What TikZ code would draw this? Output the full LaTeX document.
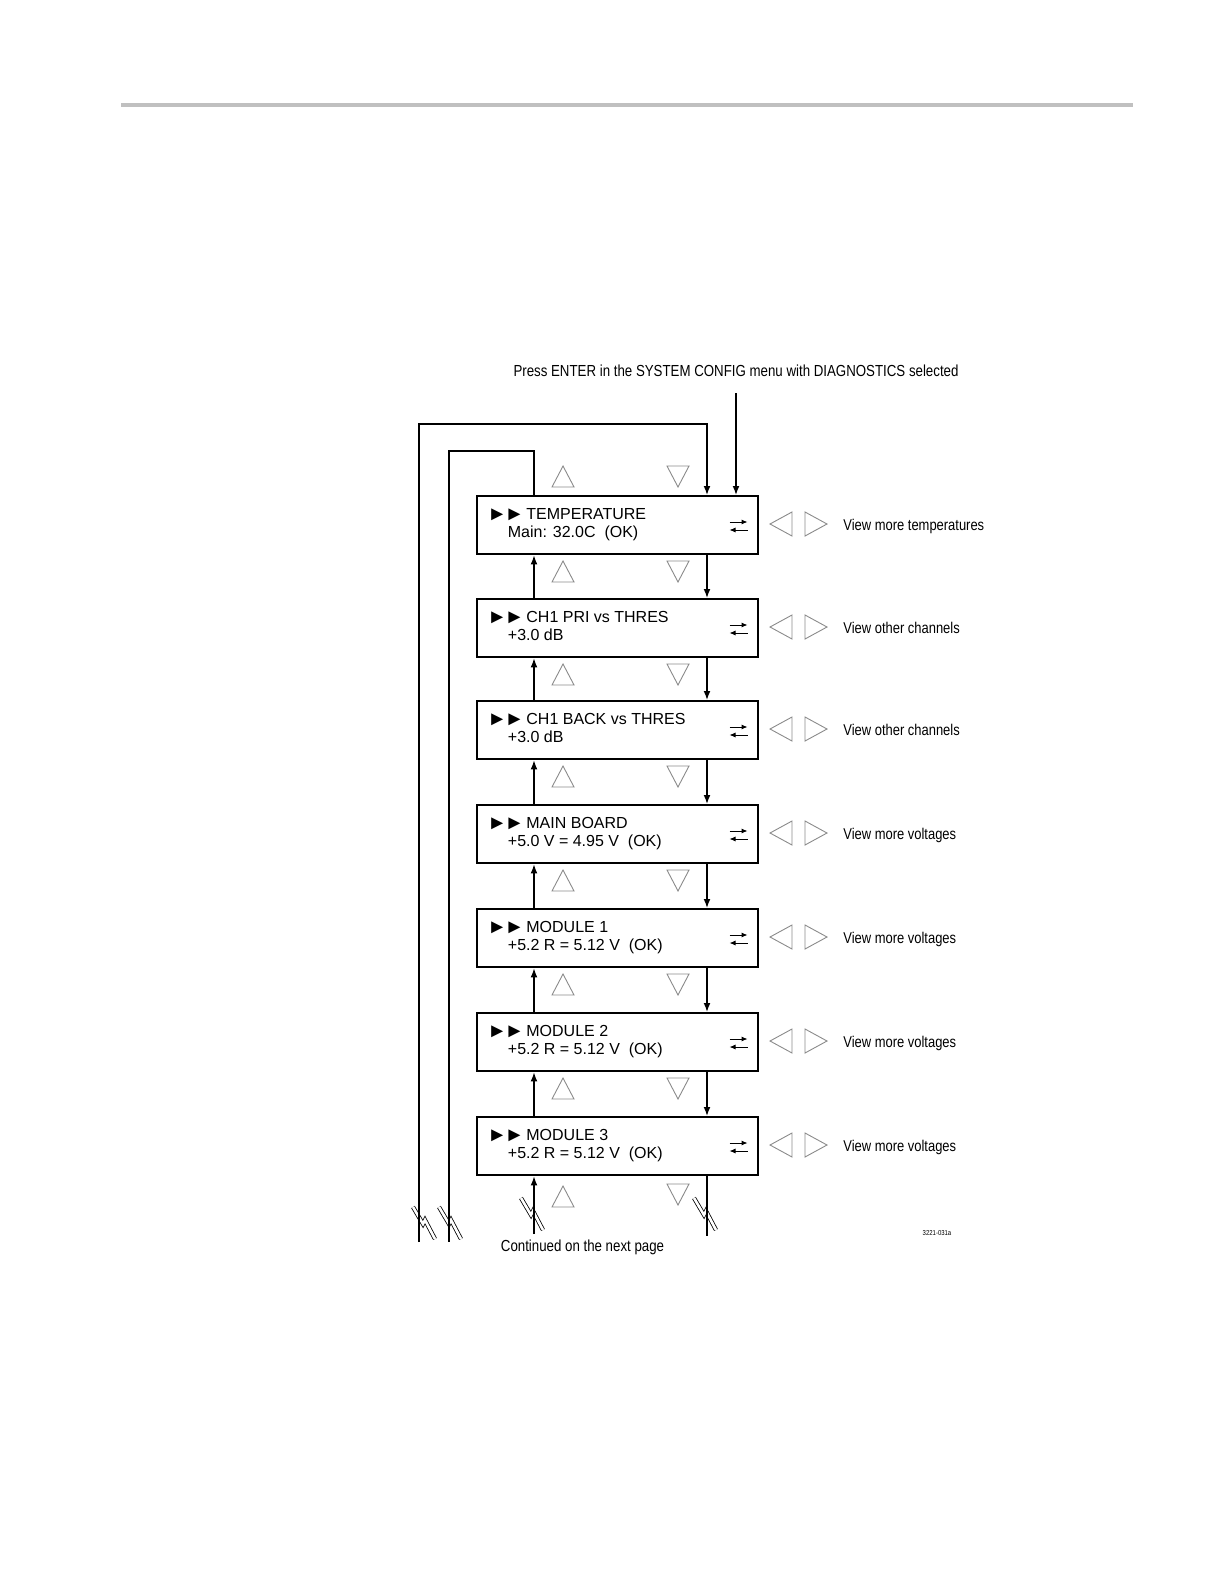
\documentclass[tikz,border=0pt]{standalone}
\usepackage{fontspec}
\setmainfont{Liberation Sans}
\newfontfamily\narrowfont[FakeStretch=0.83]{Liberation Sans}
\usetikzlibrary{arrows.meta}
\definecolor{rulegray}{HTML}{C0C0C0}
\definecolor{trigray}{HTML}{8A8A8A}
\tikzset{menubox/.style= {draw, line width=1.2pt, minimum width=140.5pt, minimum height=29pt, inner sep=0pt, anchor=north west}}
\tikzset{flow/.style= {line width=0.6pt, -{Latex[length=4.5pt,width=3.4pt]}}}
\tikzset{wire/.style= {line width=0.6pt}}
\tikzset{lcd/.style= {anchor=base west, inner sep=0pt, font=\fontsize{8}{9.6}\selectfont}}
\tikzset{cursor/.style= {anchor=base west, inner sep=0pt, font=\fontsize{10}{12}\selectfont}}
\tikzset{hint/.style= {anchor=base west, inner sep=0pt, font=\narrowfont\fontsize{7.8}{9}\selectfont}}
\tikzset{navtri/.style= {draw=trigray, line width=0.45pt}}
\tikzset{uptri/.pic= {\draw[navtri](-11,10)--(11,10)--(0,-11)--cycle;}}
\tikzset{dntri/.pic= {\draw[navtri](-11,-10)--(11,-10)--(0,11)--cycle;}}
\tikzset{lftri/.pic= {\draw[navtri](11,-12)--(11,12)--(-11,0)--cycle;}}
\tikzset{rttri/.pic= {\draw[navtri](-11,-12)--(-11,12)--(11,0)--cycle;}}
\tikzset{swap/.pic= {\draw[line width=0.5pt,-{Latex[length=3pt,width=2.6pt]}](-9,-4)--(9,-4);
                     \draw[line width=0.5pt,-{Latex[length=3pt,width=2.6pt]}](9,4)--(-9,4);}}
\tikzset{brk/.pic= {\draw[line width=0.4pt, double, double distance=1.3pt](-11,-16)--(-1,1)--(1,-3)--(11,16);}}
\newcommand{\cursorglyphs}{►\kern-1.3pt►}

\begin{document}
\begin{tikzpicture}[x=0.5pt,y=-0.5pt]
        \useasboundingbox (0,0) rectangle (1224,1584);
        \draw[line width=2pt, rulegray](121,105)--(1133,105);

        \node[anchor=base, inner sep=0pt, font=\narrowfont\fontsize{8}{9.6}\selectfont](title)at(736,376)
            {Press ENTER in the SYSTEM CONFIG menu with DIAGNOSTICS selected};

        % menu screens
        \node[menubox](temp)at(476,495){};
        \node[menubox](chpri)at(476,598){};
        \node[menubox](chback)at(476,700){};
        \node[menubox](mainbd)at(476,804){};
        \node[menubox](mod1)at(476,908){};
        \node[menubox](mod2)at(476,1012){};
        \node[menubox](mod3)at(476,1116){};

        \node[cursor](cur1)at(487,520){\cursorglyphs};
        \node[lcd](head1)at(526,519){TEMPERATURE};
        \node[lcd](val1)at(507.5,537){Main: 32.0C\ \ (OK)};
        \node[cursor](cur2)at(487,623){\cursorglyphs};
        \node[lcd](head2)at(526,622){CH1 PRI vs THRES};
        \node[lcd](val2)at(507.5,640){+3.0 dB};
        \node[cursor](cur3)at(487,725){\cursorglyphs};
        \node[lcd](head3)at(526,724){CH1 BACK vs THRES};
        \node[lcd](val3)at(507.5,742){+3.0 dB};
        \node[cursor](cur4)at(487,829){\cursorglyphs};
        \node[lcd](head4)at(526,828){MAIN BOARD};
        \node[lcd](val4)at(507.5,846){+5.0 V = 4.95 V\ \ (OK)};
        \node[cursor](cur5)at(487,933){\cursorglyphs};
        \node[lcd](head5)at(526,932){MODULE 1};
        \node[lcd](val5)at(507.5,950){+5.2 R = 5.12 V\ \ (OK)};
        \node[cursor](cur6)at(487,1037){\cursorglyphs};
        \node[lcd](head6)at(526,1036){MODULE 2};
        \node[lcd](val6)at(507.5,1054){+5.2 R = 5.12 V\ \ (OK)};
        \node[cursor](cur7)at(487,1141){\cursorglyphs};
        \node[lcd](head7)at(526,1140){MODULE 3};
        \node[lcd](val7)at(507.5,1158){+5.2 R = 5.12 V\ \ (OK)};

        \pic at(738.5,526){swap};
        \pic at(738.5,629){swap};
        \pic at(738.5,731){swap};
        \pic at(738.5,835){swap};
        \pic at(738.5,939){swap};
        \pic at(738.5,1043){swap};
        \pic at(738.5,1147){swap};

        % left/right keys
        \pic at(781,524){lftri}; \pic at(816,524){rttri};
        \pic at(781,627){lftri}; \pic at(816,627){rttri};
        \pic at(781,729){lftri}; \pic at(816,729){rttri};
        \pic at(781,833){lftri}; \pic at(816,833){rttri};
        \pic at(781,937){lftri}; \pic at(816,937){rttri};
        \pic at(781,1041){lftri}; \pic at(816,1041){rttri};
        \pic at(781,1145){lftri}; \pic at(816,1145){rttri};

        \node[hint](side1)at(843,530.5){View more temperatures};
        \node[hint](side2)at(843,633.5){View other channels};
        \node[hint](side3)at(843,735.5){View other channels};
        \node[hint](side4)at(843,839.5){View more voltages};
        \node[hint](side5)at(843,943.5){View more voltages};
        \node[hint](side6)at(843,1047.5){View more voltages};
        \node[hint](side7)at(843,1151.5){View more voltages};

        % up/down keys
        \pic at(563,477){uptri};  \pic at(678,476){dntri};
        \pic at(563,572){uptri};  \pic at(678,571){dntri};
        \pic at(563,675){uptri};  \pic at(678,674){dntri};
        \pic at(563,777){uptri};  \pic at(678,776){dntri};
        \pic at(563,881){uptri};  \pic at(678,880){dntri};
        \pic at(563,985){uptri};  \pic at(678,984){dntri};
        \pic at(563,1089){uptri}; \pic at(678,1088){dntri};
        \pic at(563,1197){uptri}; \pic at(678,1194){dntri};

        % break marks
        \pic at(424,1223){brk};
        \pic at(450,1223){brk};
        \pic at(532,1214){brk};
        \pic at(705,1214){brk};

        \coordinate(upx)at(534,0);
        \coordinate(dnx)at(707,0);
        \coordinate(entry)at(736,393);
        \coordinate(outerbot)at(419,1242);
        \coordinate(outertop)at(419,424);
        \coordinate(innertop)at(449,451);
        \coordinate(innerbot)at(449,1242);
        \coordinate(botup)at(534,1234);
        \coordinate(botdn)at(707,1236);

        \draw[flow](entry)--(temp.north -| entry);
        \draw[flow](outerbot)--(outertop)-|(temp.north -| dnx);
        \draw[wire](temp.north -| upx)|-(innertop)--(innerbot);

        \draw[flow](chpri.north -| upx)--(temp.south -| upx);
        \draw[flow](chback.north -| upx)--(chpri.south -| upx);
        \draw[flow](mainbd.north -| upx)--(chback.south -| upx);
        \draw[flow](mod1.north -| upx)--(mainbd.south -| upx);
        \draw[flow](mod2.north -| upx)--(mod1.south -| upx);
        \draw[flow](mod3.north -| upx)--(mod2.south -| upx);
        \draw[flow](botup)--(mod3.south -| upx);

        \draw[flow](temp.south -| dnx)--(chpri.north -| dnx);
        \draw[flow](chpri.south -| dnx)--(chback.north -| dnx);
        \draw[flow](chback.south -| dnx)--(mainbd.north -| dnx);
        \draw[flow](mainbd.south -| dnx)--(mod1.north -| dnx);
        \draw[flow](mod1.south -| dnx)--(mod2.north -| dnx);
        \draw[flow](mod2.south -| dnx)--(mod3.north -| dnx);
        \draw[wire](mod3.south -| dnx)--(botdn);

        \node[anchor=base, inner sep=0pt, font=\narrowfont\fontsize{8}{9.6}\selectfont](cont)at(582.5,1251){Continued on the next page};
        \node[anchor=base, inner sep=0pt, font=\narrowfont\fontsize{3.6}{4}\selectfont](tag)at(937,1235){3221-031a};
    \end{tikzpicture}
\end{document}
